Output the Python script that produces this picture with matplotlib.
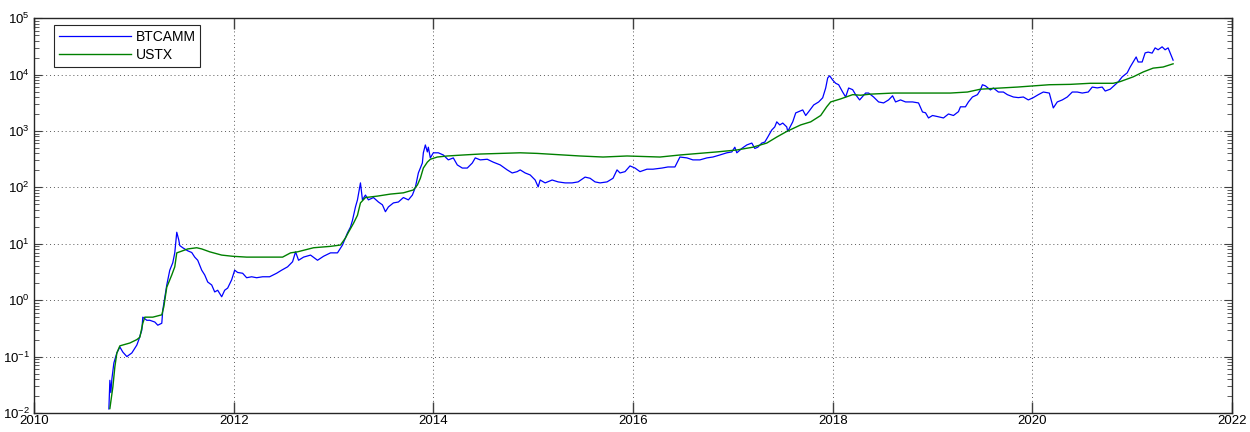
import numpy as np
import matplotlib
matplotlib.use("Agg")
import matplotlib.pyplot as plt
from matplotlib.ticker import LogLocator, NullFormatter

plt.rcParams['font.family'] = ['Liberation Sans', 'DejaVu Sans']
plt.rcParams['mathtext.default'] = 'regular'

# BTCAMM price series (decimal year, price)
btc_year = [
    2010.75, 2010.76, 2010.77, 2010.78, 2010.80, 2010.83, 2010.86, 2010.89, 2010.93, 2010.98,
    2011.03, 2011.05, 2011.08, 2011.09, 2011.13, 2011.16, 2011.21, 2011.24, 2011.28, 2011.29,
    2011.33, 2011.36, 2011.39, 2011.41, 2011.43, 2011.45, 2011.46, 2011.49, 2011.54, 2011.58,
    2011.61, 2011.64, 2011.68, 2011.71, 2011.74, 2011.78, 2011.81, 2011.84, 2011.88, 2011.91,
    2011.94, 2011.98, 2012.01, 2012.04, 2012.09, 2012.13, 2012.18, 2012.23, 2012.29, 2012.36,
    2012.43, 2012.48, 2012.54, 2012.59, 2012.62, 2012.65, 2012.70, 2012.77, 2012.84, 2012.90,
    2012.97, 2013.04, 2013.09, 2013.14, 2013.17, 2013.19, 2013.22, 2013.24, 2013.27, 2013.29,
    2013.32, 2013.35, 2013.40, 2013.45, 2013.49, 2013.52, 2013.55, 2013.60, 2013.65, 2013.70,
    2013.75, 2013.79, 2013.82, 2013.85, 2013.89, 2013.90, 2013.92, 2013.94, 2013.95, 2013.97,
    2014.00, 2014.05, 2014.10, 2014.15, 2014.20, 2014.24, 2014.29, 2014.34, 2014.39, 2014.42,
    2014.47, 2014.54, 2014.60, 2014.67, 2014.74, 2014.79, 2014.84, 2014.87, 2014.92, 2014.97,
    2015.02, 2015.05, 2015.07, 2015.12, 2015.19, 2015.25, 2015.32, 2015.39, 2015.45, 2015.52,
    2015.57, 2015.62, 2015.67, 2015.74, 2015.80, 2015.84, 2015.87, 2015.92, 2015.97, 2016.02,
    2016.07, 2016.14, 2016.20, 2016.29, 2016.35, 2016.42, 2016.47, 2016.54, 2016.60, 2016.67,
    2016.74, 2016.80, 2016.87, 2016.94, 2016.99, 2017.02, 2017.04, 2017.09, 2017.14, 2017.19,
    2017.22, 2017.25, 2017.29, 2017.32, 2017.35, 2017.39, 2017.42, 2017.44, 2017.47, 2017.50,
    2017.54, 2017.55, 2017.60, 2017.63, 2017.66, 2017.70, 2017.73, 2017.76, 2017.81, 2017.86,
    2017.90, 2017.93, 2017.95, 2017.97, 2018.00, 2018.03, 2018.06, 2018.10, 2018.13, 2018.16,
    2018.20, 2018.23, 2018.27, 2018.33, 2018.36, 2018.41, 2018.46, 2018.51, 2018.56, 2018.60,
    2018.63, 2018.68, 2018.73, 2018.80, 2018.86, 2018.90, 2018.93, 2018.96, 2019.00, 2019.05,
    2019.11, 2019.16, 2019.21, 2019.26, 2019.28, 2019.33, 2019.36, 2019.40, 2019.45, 2019.48,
    2019.50, 2019.53, 2019.58, 2019.61, 2019.66, 2019.71, 2019.75, 2019.81, 2019.86, 2019.91,
    2019.96, 2020.01, 2020.06, 2020.11, 2020.17, 2020.21, 2020.25, 2020.30, 2020.35, 2020.40,
    2020.45, 2020.50, 2020.56, 2020.60, 2020.65, 2020.70, 2020.73, 2020.78, 2020.83, 2020.86,
    2020.90, 2020.95, 2020.98, 2021.01, 2021.04, 2021.06, 2021.10, 2021.13, 2021.16, 2021.20,
    2021.23, 2021.26, 2021.30, 2021.33, 2021.36, 2021.39, 2021.41,
]
btc_price = [
    0.0118, 0.038, 0.023, 0.040, 0.077, 0.116, 0.148, 0.120, 0.100, 0.116,
    0.160, 0.200, 0.295, 0.500, 0.440, 0.440, 0.410, 0.360, 0.390, 0.670,
    1.86, 3.4, 4.6, 6.9, 16.0, 11.7, 9.3, 8.5, 7.5, 7.0,
    5.8, 5.1, 3.4, 2.8, 2.1, 1.86, 1.4, 1.5, 1.15, 1.5,
    1.64, 2.3, 3.4, 3.1, 3.0, 2.5, 2.6, 2.5, 2.6, 2.6,
    3.0, 3.4, 3.9, 4.8, 7.2, 5.1, 5.8, 6.3, 5.1, 6.0,
    6.9, 6.9, 9.5, 15.6, 19.8, 26.0, 45.0, 60.0, 120.0, 60.0,
    73.0, 60.0, 66.0, 55.0, 49.0, 37.0, 45.0, 53.0, 55.0, 66.0,
    60.0, 73.0, 100.0, 180.0, 270.0, 410.0, 565.0, 425.0, 515.0, 333.0,
    410.0, 410.0, 375.0, 307.0, 333.0, 250.0, 220.0, 220.0, 270.0, 333.0,
    307.0, 315.0, 280.0, 250.0, 204.0, 180.0, 190.0, 204.0, 180.0, 166.0,
    135.0, 102.0, 135.0, 120.0, 135.0, 125.0, 120.0, 120.0, 125.0, 152.0,
    145.0, 125.0, 120.0, 125.0, 145.0, 204.0, 180.0, 190.0, 240.0, 220.0,
    190.0, 210.0, 210.0, 220.0, 230.0, 230.0, 345.0, 333.0, 307.0, 307.0,
    333.0, 345.0, 375.0, 410.0, 425.0, 515.0, 410.0, 490.0, 565.0, 610.0,
    490.0, 515.0, 610.0, 635.0, 780.0, 1040.0, 1180.0, 1450.0, 1280.0, 1380.0,
    1180.0, 980.0, 1450.0, 2090.0, 2200.0, 2360.0, 1880.0, 2200.0, 2890.0, 3270.0,
    3870.0, 5770.0, 8700.0, 9500.0, 8000.0, 7000.0, 6600.0, 4900.0, 4000.0, 5770.0,
    5400.0, 4400.0, 3550.0, 4700.0, 4700.0, 4000.0, 3270.0, 3140.0, 3550.0, 4200.0,
    3270.0, 3550.0, 3270.0, 3270.0, 3140.0, 2170.0, 2100.0, 1700.0, 1880.0, 1800.0,
    1700.0, 2000.0, 1880.0, 2200.0, 2680.0, 2680.0, 3270.0, 4000.0, 4400.0, 5340.0,
    6600.0, 6300.0, 5340.0, 5770.0, 4900.0, 4900.0, 4400.0, 4000.0, 3900.0, 4000.0,
    3550.0, 3900.0, 4400.0, 4900.0, 4700.0, 2560.0, 3270.0, 3550.0, 4000.0, 4900.0,
    4900.0, 4700.0, 4900.0, 6000.0, 5800.0, 6000.0, 5100.0, 5500.0, 6600.0, 7400.0,
    9100.0, 10700.0, 13600.0, 16700.0, 20500.0, 16700.0, 16700.0, 24200.0, 25000.0, 24000.0,
    29700.0, 27500.0, 31000.0, 27500.0, 29700.0, 22000.0, 18000.0,
]

# USTX series (decimal year, value)
ustx_year = [
    2010.76, 2010.79, 2010.81, 2010.83, 2010.86, 2010.96, 2011.03, 2011.06, 2011.09, 2011.11,
    2011.19, 2011.28, 2011.30, 2011.33, 2011.38, 2011.41, 2011.43, 2011.46, 2011.54, 2011.63,
    2011.68, 2011.76, 2011.88, 2011.99, 2012.13, 2012.26, 2012.39, 2012.49, 2012.57, 2012.64,
    2012.80, 2012.97, 2013.07, 2013.12, 2013.15, 2013.20, 2013.24, 2013.27, 2013.32, 2013.44,
    2013.57, 2013.70, 2013.80, 2013.84, 2013.87, 2013.90, 2013.94, 2013.97, 2014.04, 2014.14,
    2014.30, 2014.47, 2014.87, 2015.04, 2015.47, 2015.70, 2015.94, 2016.27, 2016.47, 2016.84,
    2017.04, 2017.20, 2017.34, 2017.44, 2017.54, 2017.68, 2017.78, 2017.88, 2017.94, 2017.98,
    2018.08, 2018.20, 2018.28, 2018.38, 2018.61, 2018.85, 2019.18, 2019.35, 2019.48, 2019.68,
    2019.85, 2020.17, 2020.38, 2020.58, 2020.81, 2020.88, 2021.01, 2021.11, 2021.21, 2021.31,
    2021.41,
]
ustx_price = [
    0.012, 0.029, 0.066, 0.116, 0.155, 0.174, 0.20, 0.22, 0.39, 0.50,
    0.50, 0.55, 0.76, 1.7, 2.8, 3.9, 6.9, 7.2, 8.1, 8.5,
    8.1, 7.2, 6.3, 6.0, 5.8, 5.8, 5.8, 5.8, 6.9, 7.2,
    8.5, 9.0, 9.5, 12.7, 16.0, 23.0, 32.0, 53.0, 66.0, 70.0,
    76.0, 80.0, 90.0, 110.0, 145.0, 220.0, 280.0, 315.0, 345.0, 360.0,
    375.0, 390.0, 410.0, 400.0, 360.0, 345.0, 360.0, 345.0, 375.0, 425.0,
    460.0, 515.0, 610.0, 780.0, 980.0, 1280.0, 1450.0, 1880.0, 2680.0, 3270.0,
    3700.0, 4400.0, 4300.0, 4500.0, 4700.0, 4700.0, 4700.0, 4900.0, 5500.0, 5770.0,
    6000.0, 6600.0, 6700.0, 7000.0, 7000.0, 7500.0, 9100.0, 11100.0, 13000.0, 13600.0,
    15500.0,
]

x_ticks = [2010, 2012, 2014, 2016, 2018, 2020, 2022]

fig = plt.figure(figsize=(12.5, 4.32), dpi=100)
ax = fig.add_axes([0.0272, 0.044, 0.9584, 0.914])

ax.semilogy(btc_year, btc_price, color='#0000ff', linewidth=0.9, label='BTCAMM')
ax.semilogy(ustx_year, ustx_price, color='#008000', linewidth=1.0, label='USTX')

ax.set_xlim(2010, 2022)
ax.set_ylim(1e-2, 1e5)
ax.set_xticks(x_ticks)
ax.set_xticklabels([str(t) for t in x_ticks])
ax.yaxis.set_major_locator(LogLocator(base=10, numticks=10))
ax.yaxis.set_minor_locator(LogLocator(base=10, subs=np.arange(2, 10), numticks=20))
ax.yaxis.set_minor_formatter(NullFormatter())

# matlab-like axes: inward ticks on every side, dotted grid
ax.tick_params(axis='both', which='both', direction='in', top=True, right=True,
               colors='0.25', labelcolor='black', labelsize=9.5)
ax.tick_params(axis='x', which='major', length=8, width=1.0, pad=1.5)
ax.tick_params(axis='y', which='major', length=6, width=0.8, pad=3)
ax.tick_params(axis='y', which='minor', length=3.5, width=0.6)
ax.grid(True, which='major', linestyle=(0, (1, 3)), color='0.35', linewidth=0.7)
for side in ax.spines.values():
    side.set_color('0.15')
    side.set_linewidth(1.0)

leg = ax.legend(loc='upper left', bbox_to_anchor=(0.017, 0.983), fancybox=False,
                framealpha=1, edgecolor='0.15', fontsize=10, handlelength=5.2,
                borderpad=0.35, labelspacing=0.3, handletextpad=0.3, borderaxespad=0)
leg.get_frame().set_linewidth(0.8)

fig.savefig('out.png', dpi=100)
